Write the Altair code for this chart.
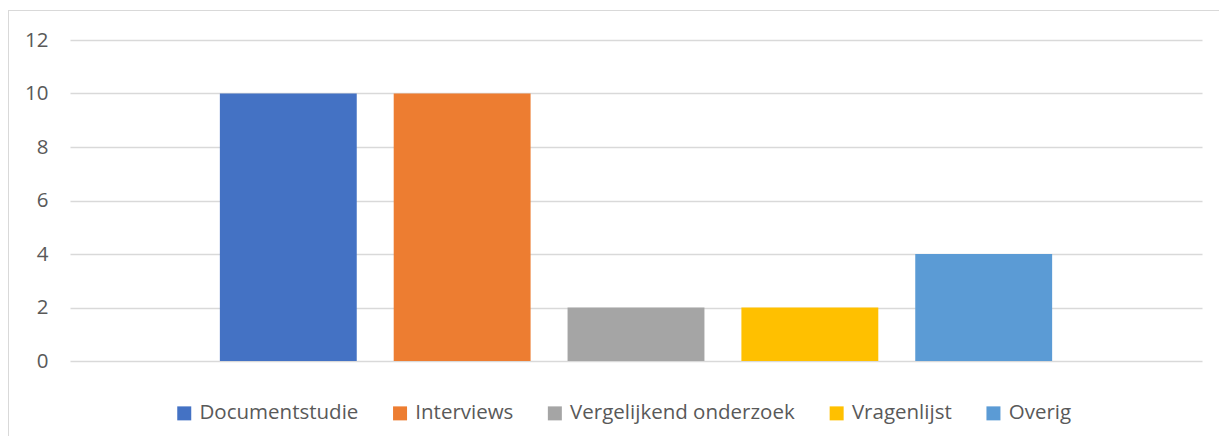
import altair as alt
import pandas as pd

series = ["Documentstudie", "Interviews", "Vergelijkend onderzoek", "Vragenlijst", "Overig"]
values = [10, 10, 2, 2, 4]
colors = ["#4472C4", "#ED7D31", "#A5A5A5", "#FFC000", "#5B9BD5"]
y_ticks = [0, 2, 4, 6, 8, 10, 12]

df = pd.DataFrame({"reeks": series, "aantal": values})

W, H = 1132, 321
FONT = "Open Sans"

bars = alt.Chart(df).mark_bar().encode(
    x=alt.X("reeks:N", sort=series,
            scale=alt.Scale(paddingInner=0.2126, paddingOuter=0.862),
            axis=alt.Axis(title=None, labels=False, ticks=False, domain=False, grid=False)),
    y=alt.Y("aantal:Q", scale=alt.Scale(domain=[0, 12], nice=False),
            axis=alt.Axis(title=None, values=y_ticks, grid=True, gridColor="#d9d9d9",
                          gridWidth=1.3, domain=False, ticks=False, labelPadding=22,
                          labelFont=FONT, labelFontSize=20.5, labelColor="#595959")),
    color=alt.Color("reeks:N", sort=series,
                    scale=alt.Scale(domain=series, range=colors),
                    legend=alt.Legend(title=None, orient="none", direction="horizontal",
                                      legendX=104, legendY=363,
                                      symbolType="square", symbolSize=196,
                                      symbolStrokeWidth=0, labelFont=FONT,
                                      labelFontSize=20.5, labelColor="#595959",
                                      labelLimit=0, labelOffset=5, columnPadding=30.8,
                                      padding=0)),
)

border_top = alt.Chart(df).mark_rule(color="#d9d9d9", strokeWidth=1).encode(
    x=alt.value(-62), x2=alt.value(W + 17), y=alt.value(-29.5)
)
border_left = alt.Chart(df).mark_rule(color="#d9d9d9", strokeWidth=1).encode(
    x=alt.value(-61.5), y=alt.value(-29.5), y2=alt.value(H + 75)
)

chart = alt.layer(bars, border_top, border_left).properties(
    width=W, height=H,
    autosize=alt.AutoSizeParams(type="none"),
    padding={"left": 62, "top": 32, "right": 17, "bottom": 75},
).configure_view(stroke=None)

chart.save("out.html", embed_options={"renderer": "svg", "actions": False})
